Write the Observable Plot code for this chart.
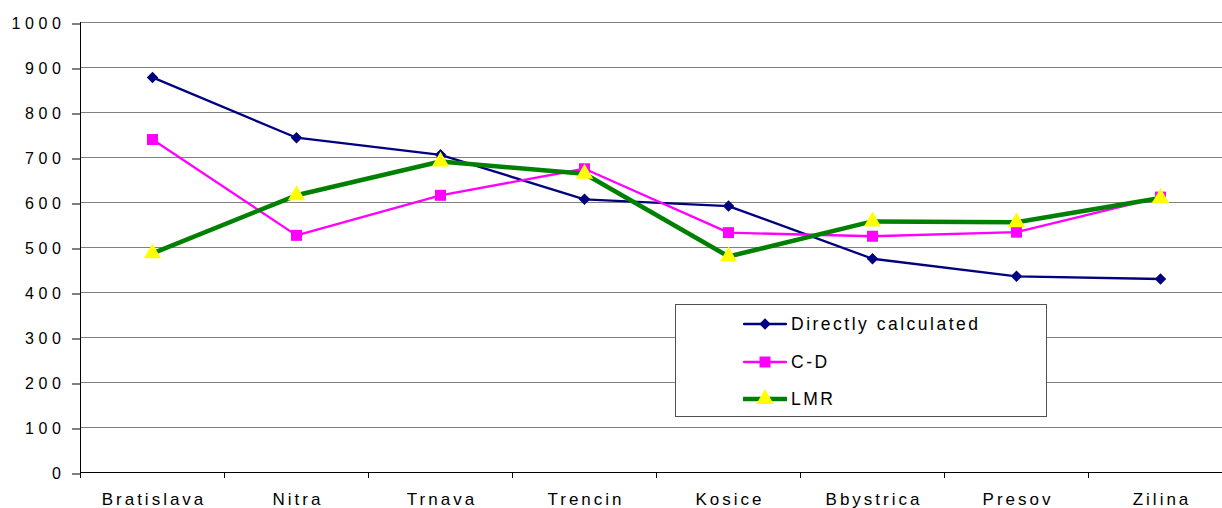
<!DOCTYPE html>
<html>
<head>
<meta charset="utf-8">
<script src="https://cdn.jsdelivr.net/npm/d3@7"></script>
<script src="https://cdn.jsdelivr.net/npm/@observablehq/plot@0.6"></script>
<style>
  html, body { margin: 0; padding: 0; background: white; }
  #wrap { position: relative; width: 1222px; height: 508px; overflow: hidden; font-family: "Liberation Sans", Arial, sans-serif; }
  #wrap g[aria-label="y-axis tick label"] { letter-spacing: 4.6px; font-size: 16px; }
  #wrap g[aria-label="x-axis tick label"] { letter-spacing: 3px; font-size: 17px; }
  #legend { position: absolute; left: 675px; top: 304px; width: 372px; height: 113px; border: 1px solid #505050; background: white; box-sizing: border-box; }
  .row { position: absolute; left: 67px; height: 20px; display: flex; align-items: center; font-size: 17.5px; letter-spacing: 2.5px; color: #000; }
  .row svg { display: block; margin-right: 4px; }
</style>
</head>
<body>
<div id="wrap"></div>
<script>
const cats = ["Bratislava", "Nitra", "Trnava", "Trencin", "Kosice", "Bbystrica", "Presov", "Zilina"];
const direct = [878, 744, 706, 607, 592, 475, 436, 430];
const cd = [740, 527, 616, 675, 533, 525, 534, 612];
const lmr = [487, 616, 691, 664, 480, 558, 556, 610];
const seriesNames = ["Directly calculated", "C-D", "LMR"];
const yTicks = [0, 100, 200, 300, 400, 500, 600, 700, 800, 900, 1000];

const idx = cats.map((_, i) => i);
const bounds = d3.range(-0.5, cats.length + 0.5, 1);
const rows = (vals) => vals.map((v, i) => ({i, v}));

const styles = [
  {line: "#000080", width: 2.3, symbol: "diamond2", fill: "#000080", r: 5.2},
  {line: "#FF00FF", width: 2.3, symbol: "square", fill: "#FF00FF", r: 6.2},
  {line: "#008000", width: 4.5, symbol: "triangle", fill: "#FFFF00", r: 6.4}
];
const data = [direct, cd, lmr];

const seriesMarks = data.flatMap((vals, k) => [
  Plot.line(rows(vals), {x: "i", y: "v", stroke: styles[k].line, strokeWidth: styles[k].width, strokeLinejoin: "round"}),
  Plot.dot(rows(vals), {x: "i", y: "v", symbol: styles[k].symbol, fill: styles[k].fill, stroke: "none", r: styles[k].r})
]);

const chart = Plot.plot({
  width: 1222,
  height: 508,
  marginTop: 22,
  marginBottom: 36,
  marginLeft: 80,
  marginRight: 0,
  style: {fontFamily: "'Liberation Sans', Arial, sans-serif", fontSize: "16px", color: "#000", background: "white", overflow: "hidden"},
  x: {type: "linear", domain: [-0.5, 7.5], range: [80, 1232]},
  y: {domain: [0, 1000], range: [472, 22]},
  marks: [
    Plot.ruleY(yTicks.filter(v => v > 0), {stroke: "#808080", strokeWidth: 1}),
    Plot.axisY({ticks: yTicks, tickSize: 8, tickPadding: 7, tickFormat: d => String(d), strokeOpacity: 1, label: null, dy: 1.5}),
    Plot.axisX({ticks: bounds, tickSize: 6, tickFormat: () => "", strokeOpacity: 1, label: null}),
    Plot.axisX({ticks: idx, tickSize: 0, tickPadding: 20, tickFormat: i => cats[i], dx: 1.5, label: null}),
    Plot.ruleY([0], {stroke: "#000"}),
    Plot.ruleX([-0.5], {stroke: "#000"}),
    ...seriesMarks
  ]
});

const wrap = document.getElementById("wrap");
wrap.appendChild(chart);

// Legend
const legend = document.createElement("div");
legend.id = "legend";
const rowTops = [9, 47, 84];
const symMap = {diamond2: d3.symbolDiamond2, square: d3.symbolSquare, triangle: d3.symbolTriangle};
seriesNames.forEach((name, k) => {
  const row = document.createElement("div");
  row.className = "row";
  row.style.top = rowTops[k] + "px";
  const svg = d3.create("svg").attr("width", 44).attr("height", 20);
  svg.append("line").attr("x1", 1).attr("x2", 43).attr("y1", 10).attr("y2", 10)
    .attr("stroke", styles[k].line).attr("stroke-width", styles[k].width).attr("stroke-linecap", "round");
  svg.append("path")
    .attr("d", d3.symbol(symMap[styles[k].symbol], Math.PI * styles[k].r * styles[k].r)())
    .attr("transform", "translate(22,10)")
    .attr("fill", styles[k].fill);
  row.appendChild(svg.node());
  const label = document.createElement("span");
  label.textContent = name;
  row.appendChild(label);
  legend.appendChild(row);
});
wrap.appendChild(legend);
</script>
</body>
</html>
